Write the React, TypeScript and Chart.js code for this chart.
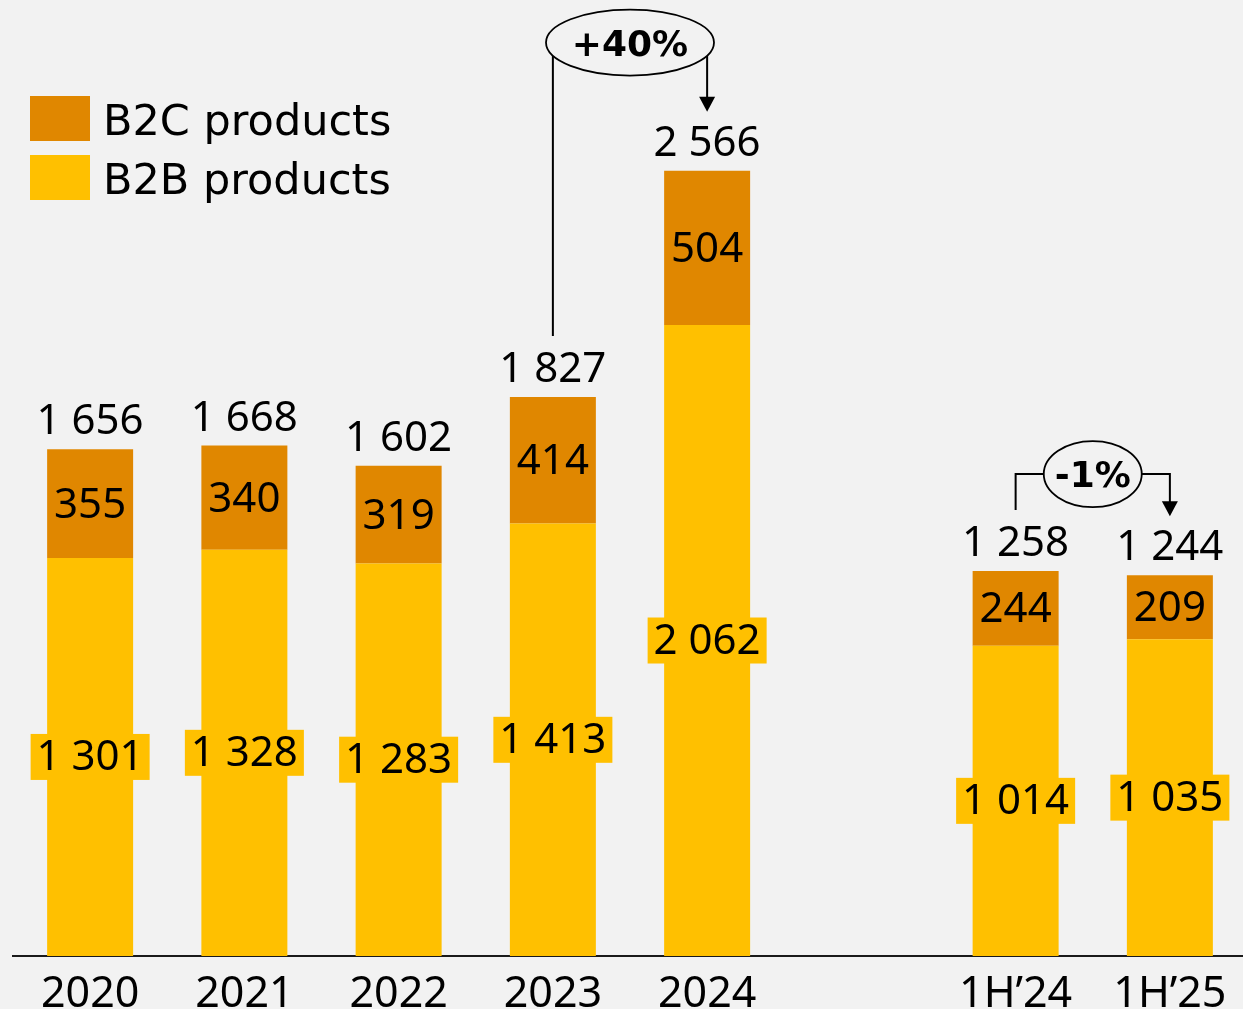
import React, { useEffect, useRef } from "react";
import { Chart, registerables } from "chart.js";

Chart.register(...registerables);

const categories = ["2020", "2021", "2022", "2023", "2024", "", "1H’24", "1H’25"];
const b2bValues = [1301, 1328, 1283, 1413, 2062, null, 1014, 1035];
const b2cValues = [355, 340, 319, 414, 504, null, 244, 209];
const totalValues = [1656, 1668, 1602, 1827, 2566, null, 1258, 1244];
const seriesNames = ["B2B products", "B2C products"];
const growthNotes = [
  { from: 3, to: 4, text: "+40%", level: 2985, rx: 84 },
  { from: 6, to: 7, text: "-1%", level: 1575, rx: 49 },
];

const B2B_COLOR = "#FFC000";
const B2C_COLOR = "#E08700";
const BG = "#F2F2F2";
const LEGEND_FONT = '"DejaVu Sans"';
const NUM_FONT = '"Noto Sans"';

const fmt = (n: number) => String(n).replace(/\B(?=(\d{3})+(?!\d))/g, " ");

const drawPlugin = {
  id: "customDraw",
  beforeDraw(chart: any) {
    const ctx = chart.ctx;
    ctx.save();
    ctx.fillStyle = BG;
    ctx.fillRect(0, 0, chart.width, chart.height);
    ctx.restore();
  },
  afterDraw(chart: any) {
    const ctx: CanvasRenderingContext2D = chart.ctx;
    const m0 = chart.getDatasetMeta(0);
    const m1 = chart.getDatasetMeta(1);
    const yScale = chart.scales.y;
    ctx.save();
    ctx.fillStyle = "#000";
    ctx.textAlign = "center";
    ctx.textBaseline = "alphabetic";
    ctx.font = `42px ${NUM_FONT}`;
    for (let i = 0; i < categories.length; i++) {
      if (b2bValues[i] == null) continue;
      const b0 = m0.data[i].getProps(["x", "y", "base"], true);
      const b1 = m1.data[i].getProps(["x", "y", "base"], true);
      // B2B label with box
      const cy0 = (b0.y + b0.base) / 2;
      const t0 = fmt(b2bValues[i] as number);
      const w0 = ctx.measureText(t0).width;
      ctx.fillStyle = B2B_COLOR;
      ctx.fillRect(b0.x - w0 / 2 - 6, cy0 - 23, w0 + 12, 46);
      ctx.fillStyle = "#000";
      ctx.fillText(t0, b0.x, cy0 + 13);
      // B2C label
      const cy1 = (b1.y + b1.base) / 2;
      ctx.fillText(fmt(b2cValues[i] as number), b1.x, cy1 + 14);
      // total
      ctx.fillText(fmt(totalValues[i] as number), b1.x, b1.y - 15);
    }

    // growth brackets
    for (const n of growthNotes) {
      const p1 = m1.data[n.from].getProps(["x", "y"], true);
      const p2 = m1.data[n.to].getProps(["x", "y"], true);
      const yl = yScale.getPixelForValue(n.level);
      const yStart = p1.y - 61;
      const tip = p2.y - 59;
      ctx.strokeStyle = "#000";
      ctx.lineWidth = 2;
      ctx.beginPath();
      ctx.moveTo(p1.x, yStart);
      ctx.lineTo(p1.x, yl);
      ctx.lineTo(p2.x, yl);
      ctx.lineTo(p2.x, tip - 14);
      ctx.stroke();
      ctx.fillStyle = "#000";
      ctx.beginPath();
      ctx.moveTo(p2.x - 8, tip - 15);
      ctx.lineTo(p2.x + 8, tip - 15);
      ctx.lineTo(p2.x, tip);
      ctx.closePath();
      ctx.fill();
      const cx = (p1.x + p2.x) / 2;
      ctx.beginPath();
      ctx.ellipse(cx, yl, n.rx, 33, 0, 0, Math.PI * 2);
      ctx.fillStyle = BG;
      ctx.fill();
      ctx.lineWidth = 1.8;
      ctx.stroke();
      ctx.fillStyle = "#000";
      ctx.font = `bold 36px ${LEGEND_FONT}`;
      ctx.fillText(n.text, cx, yl + 13);
    }

    // legend
    ctx.textAlign = "left";
    ctx.font = `43px ${LEGEND_FONT}`;
    const ds = chart.data.datasets;
    const order = [1, 0];
    order.forEach((di, k) => {
      const top = 96 + k * 59;
      ctx.fillStyle = ds[di].backgroundColor;
      ctx.fillRect(30, top, 60, 45);
      ctx.fillStyle = "#000";
      ctx.fillText(ds[di].label, 103, top + 39);
    });
    ctx.restore();
  },
};

export default function App() {
  const ref = useRef<HTMLCanvasElement | null>(null);
  useEffect(() => {
    if (!ref.current) return;
    const chart = new Chart(ref.current, {
      type: "bar",
      data: {
        labels: categories,
        datasets: [
          {
            label: seriesNames[0],
            data: b2bValues as any,
            backgroundColor: B2B_COLOR,
            borderWidth: 0,
            barPercentage: 0.5575,
            categoryPercentage: 1,
          },
          {
            label: seriesNames[1],
            data: b2cValues as any,
            backgroundColor: B2C_COLOR,
            borderWidth: 0,
            barPercentage: 0.5575,
            categoryPercentage: 1,
          },
        ],
      },
      options: {
        animation: false,
        responsive: true,
        maintainAspectRatio: false,
        layout: { padding: { top: 38, left: 13, right: 0, bottom: 0 } },
        plugins: { legend: { display: false }, tooltip: { enabled: false } },
        scales: {
          x: {
            stacked: true,
            grid: { display: false, drawTicks: false },
            border: { display: true, color: "#1a1a1a", width: 2 },
            ticks: {
              color: "#000",
              font: { family: "Noto Sans", size: 43 },
              padding: 13,
              autoSkip: false,
              maxRotation: 0,
            },
            afterFit: (s: any) => {
              s.height = 53;
            },
          },
          y: { stacked: true, display: false, min: 0, max: 3000 },
        },
      },
      plugins: [drawPlugin],
    });
    return () => chart.destroy();
  }, []);
  return (
    <div
      style={{
        position: "fixed",
        left: 0,
        top: 0,
        width: 1243,
        height: 1009,
        overflow: "hidden",
        background: BG,
      }}
    >
      <div style={{ position: "relative", width: 1247, height: 1009 }}>
        <canvas ref={ref} />
      </div>
    </div>
  );
}
